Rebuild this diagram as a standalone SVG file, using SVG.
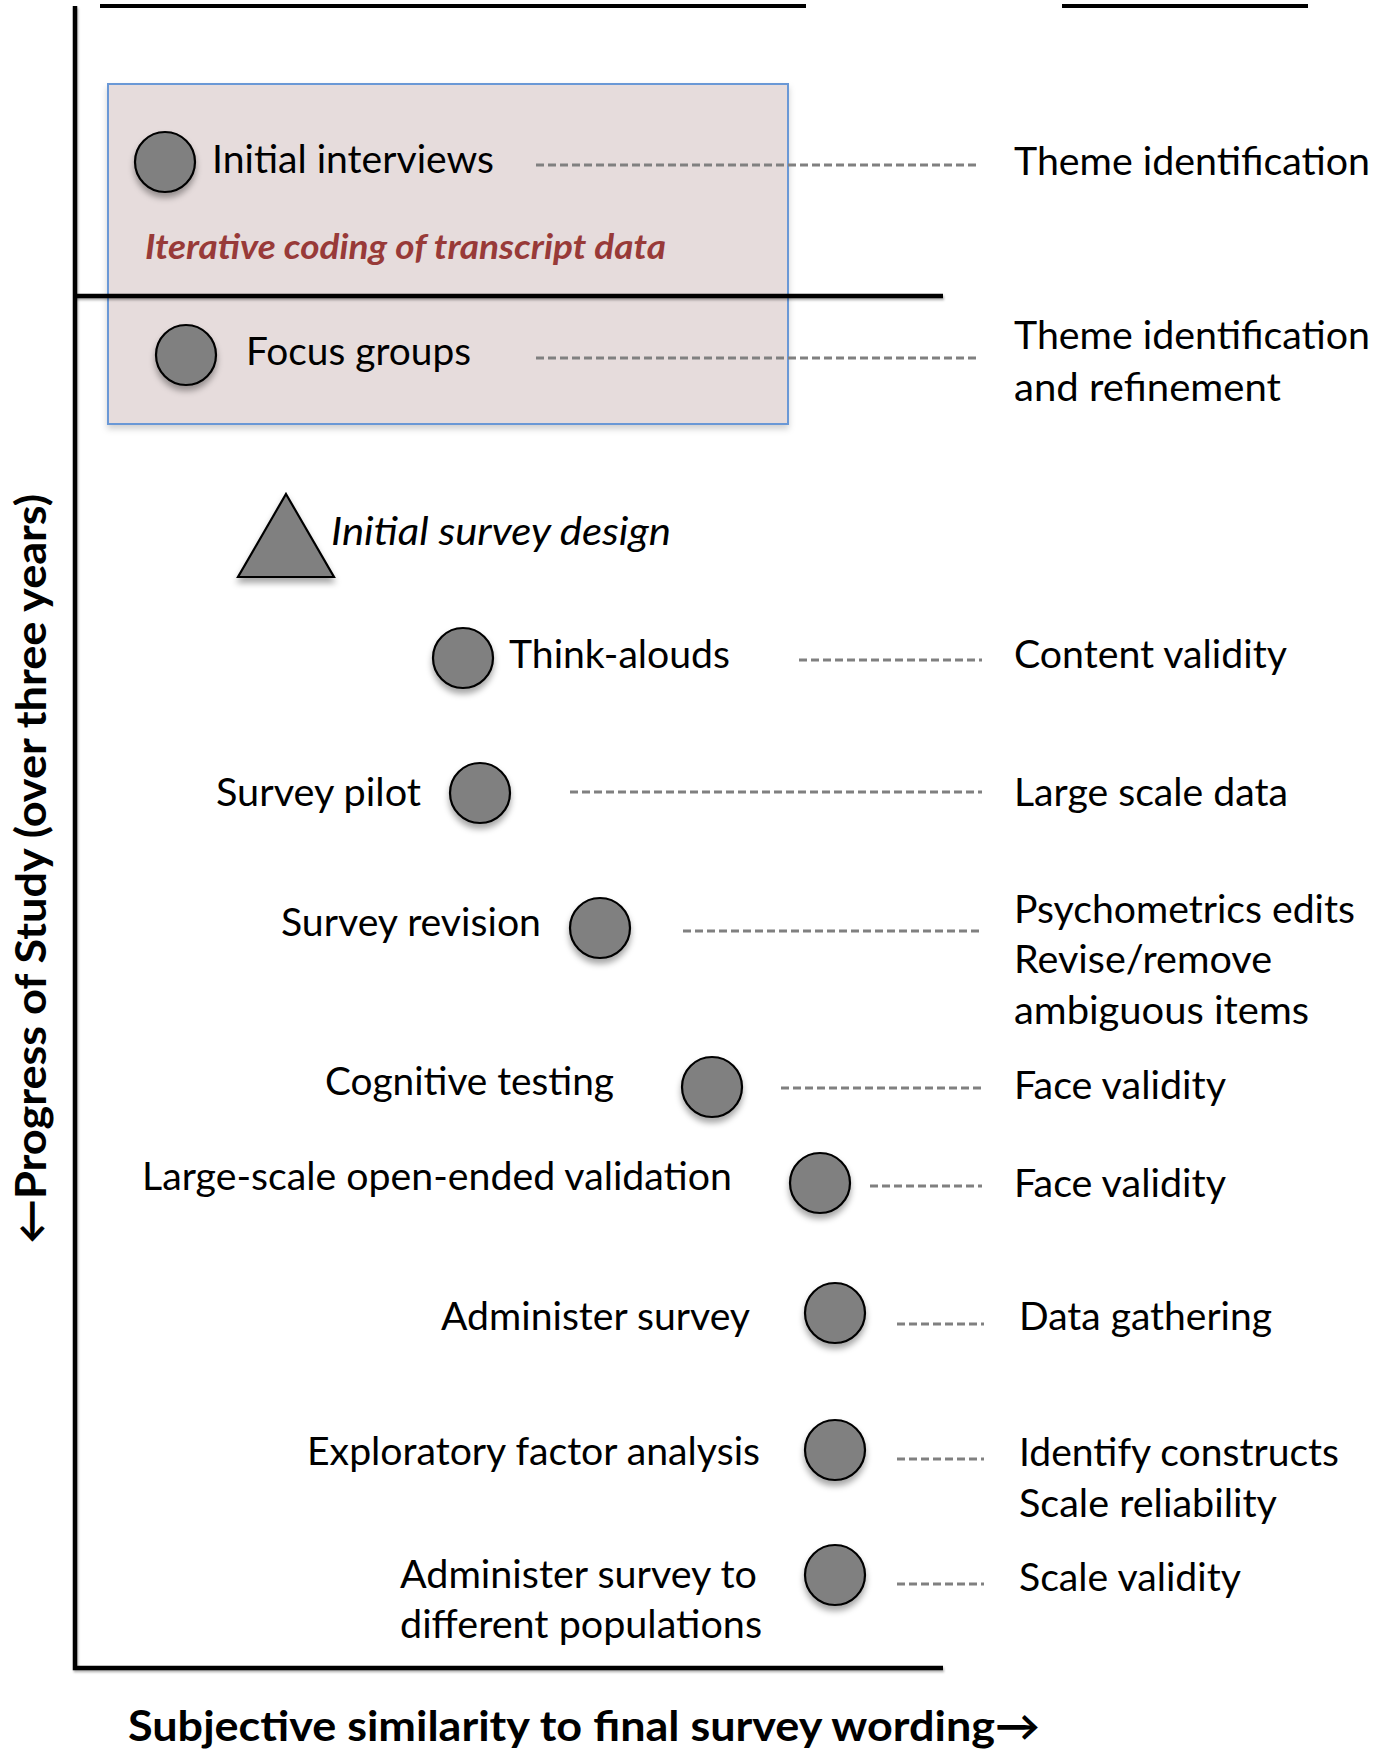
<svg xmlns="http://www.w3.org/2000/svg" width="1385" height="1750" viewBox="0 0 1385 1750">
  <defs>
    <filter id="shadow" x="-30%" y="-30%" width="160%" height="170%">
      <feDropShadow dx="0" dy="5" stdDeviation="3" flood-color="#000" flood-opacity="0.35"/>
    </filter>
    <filter id="boxShadow" x="-5%" y="-5%" width="110%" height="115%">
      <feDropShadow dx="0" dy="4" stdDeviation="3" flood-color="#000" flood-opacity="0.18"/>
    </filter>
    <!-- user-space region so that straight horizontal/vertical lines still render -->
    <filter id="lineShadow" filterUnits="userSpaceOnUse" x="0" y="0" width="1385" height="1750">
      <feDropShadow dx="1" dy="2" stdDeviation="1" flood-color="#000" flood-opacity="0.3"/>
    </filter>
  </defs>
  <style>
    text { font-family: Lato, "Open Sans", "DejaVu Sans", sans-serif; fill: #000; }
    .lbl { font-size: 38px; }
    .ital { font-size: 38px; font-style: italic; }
    .coding { font-size: 34px; font-style: italic; font-weight: bold; fill: #983a38; }
    .axislbl { font-size: 42px; font-weight: bold; }
    .step { fill: #808080; stroke: #000; stroke-width: 2.2; filter: url(#shadow); }
    .dash { stroke: #808080; stroke-width: 3.2; stroke-dasharray: 8 4; fill: none; }
    .axis { stroke: #000; stroke-width: 4.5; fill: none; filter: url(#lineShadow); }
  </style>

  <rect width="1385" height="1750" fill="#fff"/>

  <!-- column header underlines -->
  <g id="headers">
    <line x1="100" y1="6" x2="806" y2="6" stroke="#000" stroke-width="4"/>
    <line x1="1062" y1="6" x2="1308" y2="6" stroke="#000" stroke-width="4"/>
  </g>

  <!-- qualitative phase box -->
  <g id="qual-box">
    <rect x="108" y="84" width="680" height="340" fill="#e6dcdc" stroke="#6b98d6" stroke-width="2" filter="url(#boxShadow)"/>
    <text class="coding" x="145" y="259" textLength="521" lengthAdjust="spacingAndGlyphs">Iterative coding of transcript data</text>
  </g>

  <!-- axes and phase divider -->
  <g id="axes">
    <polyline class="axis" points="75,6 75,1668 943,1668"/>
    <line class="axis" x1="75" y1="296" x2="943" y2="296"/>
    <text class="axislbl" transform="translate(46,1244) rotate(-90)" x="0" y="0" textLength="750" lengthAdjust="spacingAndGlyphs">←Progress of Study (over three years)</text>
    <text class="axislbl" x="128" y="1741" textLength="912" lengthAdjust="spacingAndGlyphs">Subjective similarity to final survey wording→</text>
  </g>

  <!-- dashed leaders from each step to its validity goal -->
  <g id="connectors">
    <line class="dash" x1="536" y1="165" x2="980" y2="165"/>
    <line class="dash" x1="536" y1="358" x2="980" y2="358"/>
    <line class="dash" x1="799" y1="660" x2="982" y2="660"/>
    <line class="dash" x1="570" y1="792" x2="982" y2="792"/>
    <line class="dash" x1="683" y1="931" x2="982" y2="931"/>
    <line class="dash" x1="781" y1="1088" x2="982" y2="1088"/>
    <line class="dash" x1="870" y1="1186" x2="982" y2="1186"/>
    <line class="dash" x1="897" y1="1324" x2="984" y2="1324"/>
    <line class="dash" x1="897" y1="1459" x2="984" y2="1459"/>
    <line class="dash" x1="897" y1="1584" x2="984" y2="1584"/>
  </g>

  <!-- study steps -->
  <g id="initial-interviews">
    <circle class="step" cx="165" cy="162" r="30"/>
    <text class="lbl" x="212" y="173" textLength="282" lengthAdjust="spacingAndGlyphs">Initial interviews</text>
    <text class="lbl" x="1014" y="175" textLength="356" lengthAdjust="spacingAndGlyphs">Theme identification</text>
  </g>

  <g id="focus-groups">
    <circle class="step" cx="186" cy="355" r="30"/>
    <text class="lbl" x="246" y="365" textLength="225" lengthAdjust="spacingAndGlyphs">Focus groups</text>
    <text class="lbl" x="1014" y="349" textLength="356" lengthAdjust="spacingAndGlyphs">Theme identification</text>
    <text class="lbl" x="1014" y="401" textLength="267" lengthAdjust="spacingAndGlyphs">and refinement</text>
  </g>

  <g id="initial-survey-design">
    <polygon class="step" points="286,494 334,577 238,577"/>
    <text class="ital" x="331" y="545" textLength="340" lengthAdjust="spacingAndGlyphs">Initial survey design</text>
  </g>

  <g id="think-alouds">
    <circle class="step" cx="463" cy="658" r="30"/>
    <text class="lbl" x="509" y="668" textLength="221" lengthAdjust="spacingAndGlyphs">Think-alouds</text>
    <text class="lbl" x="1014" y="668" textLength="273" lengthAdjust="spacingAndGlyphs">Content validity</text>
  </g>

  <g id="survey-pilot">
    <circle class="step" cx="480" cy="793" r="30"/>
    <text class="lbl" x="216" y="806" textLength="205" lengthAdjust="spacingAndGlyphs">Survey pilot</text>
    <text class="lbl" x="1014" y="806" textLength="274" lengthAdjust="spacingAndGlyphs">Large scale data</text>
  </g>

  <g id="survey-revision">
    <circle class="step" cx="600" cy="928" r="30"/>
    <text class="lbl" x="281" y="936" textLength="260" lengthAdjust="spacingAndGlyphs">Survey revision</text>
    <text class="lbl" x="1014" y="923" textLength="341" lengthAdjust="spacingAndGlyphs">Psychometrics edits</text>
    <text class="lbl" x="1014" y="973" textLength="258" lengthAdjust="spacingAndGlyphs">Revise/remove</text>
    <text class="lbl" x="1014" y="1024" textLength="295" lengthAdjust="spacingAndGlyphs">ambiguous items</text>
  </g>

  <g id="cognitive-testing">
    <circle class="step" cx="712" cy="1087" r="30"/>
    <text class="lbl" x="325" y="1095" textLength="289" lengthAdjust="spacingAndGlyphs">Cognitive testing</text>
    <text class="lbl" x="1014" y="1099" textLength="212" lengthAdjust="spacingAndGlyphs">Face validity</text>
  </g>

  <g id="open-ended-validation">
    <circle class="step" cx="820" cy="1183" r="30"/>
    <text class="lbl" x="142" y="1190" textLength="590" lengthAdjust="spacingAndGlyphs">Large-scale open-ended validation</text>
    <text class="lbl" x="1014" y="1197" textLength="212" lengthAdjust="spacingAndGlyphs">Face validity</text>
  </g>

  <g id="administer-survey">
    <circle class="step" cx="835" cy="1313" r="30"/>
    <text class="lbl" x="441" y="1330" textLength="309" lengthAdjust="spacingAndGlyphs">Administer survey</text>
    <text class="lbl" x="1019" y="1330" textLength="253" lengthAdjust="spacingAndGlyphs">Data gathering</text>
  </g>

  <g id="factor-analysis">
    <circle class="step" cx="835" cy="1450" r="30"/>
    <text class="lbl" x="307" y="1465" textLength="453" lengthAdjust="spacingAndGlyphs">Exploratory factor analysis</text>
    <text class="lbl" x="1019" y="1466" textLength="320" lengthAdjust="spacingAndGlyphs">Identify constructs</text>
    <text class="lbl" x="1019" y="1517" textLength="258" lengthAdjust="spacingAndGlyphs">Scale reliability</text>
  </g>

  <g id="different-populations">
    <circle class="step" cx="835" cy="1575" r="30"/>
    <text class="lbl" x="400" y="1588" textLength="357" lengthAdjust="spacingAndGlyphs">Administer survey to</text>
    <text class="lbl" x="400" y="1638" textLength="362" lengthAdjust="spacingAndGlyphs">different populations</text>
    <text class="lbl" x="1019" y="1591" textLength="222" lengthAdjust="spacingAndGlyphs">Scale validity</text>
  </g>
</svg>
